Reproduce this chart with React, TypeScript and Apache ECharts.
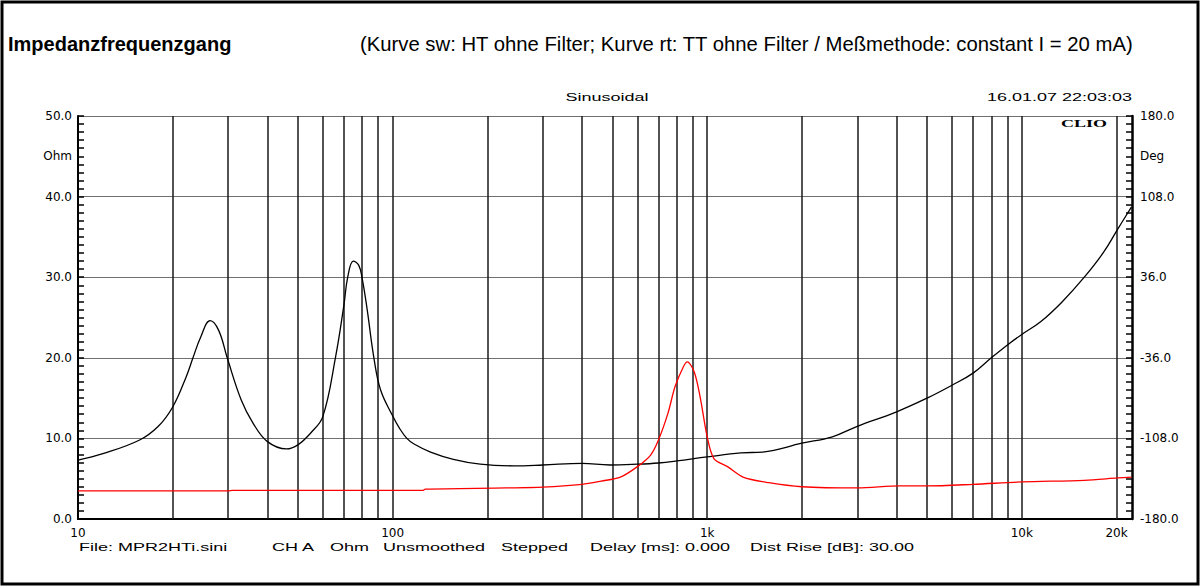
import React, { useEffect, useRef } from "react";
import * as echarts from "echarts";

// HT ohne Filter (black curve) – frequency [Hz] / impedance [Ohm]
const htFreq = [10, 12, 15.7, 18, 20, 22, 23.2, 24.5, 26.3, 28, 29.8, 33, 36, 40, 46, 50, 55, 60, 65.8, 70, 72, 75, 78, 80, 83, 87.2, 91.6, 100, 105, 111, 117, 132, 156, 190, 242, 300, 400, 490, 600, 700, 800, 1000, 1280, 1500, 2000, 2500, 3000, 4000, 5000, 6000, 7000, 8000, 9000, 10000, 11500, 13400, 15800, 18200, 20200, 22300];
const htOhm = [7.3, 8.1, 9.8, 11.5, 13.9, 17.5, 20.0, 22.5, 24.6, 23.4, 20.0, 14.8, 11.9, 9.6, 8.7, 9.2, 10.7, 12.7, 20.0, 26.5, 30.0, 32.0, 31.5, 29.9, 26.0, 20.0, 16.0, 12.8, 11.3, 10.0, 9.3, 8.3, 7.4, 6.8, 6.6, 6.7, 6.9, 6.7, 6.8, 6.95, 7.2, 7.7, 8.2, 8.3, 9.4, 10.2, 11.5, 13.3, 15.0, 16.6, 18.1, 20.0, 21.6, 22.9, 24.5, 26.9, 30.0, 33.1, 36.0, 38.7];

// TT ohne Filter (red curve)
const ttFreq = [10, 30, 31, 125, 127, 230, 300, 400, 460, 530, 600, 660, 700, 750, 790, 840, 865, 910, 950, 1000, 1050, 1160, 1300, 1570, 2000, 3000, 4100, 5000, 7000, 10000, 15800, 20200, 22300];
const ttOhm = [3.5, 3.5, 3.55, 3.55, 3.7, 3.85, 3.95, 4.3, 4.7, 5.2, 6.5, 7.9, 9.8, 13.1, 16.4, 18.9, 19.5, 18.2, 15.1, 10.2, 7.5, 6.5, 5.2, 4.5, 4.0, 3.85, 4.1, 4.1, 4.3, 4.6, 4.8, 5.1, 5.2];

// vertical grid frequencies
const gridFreqs = [20, 30, 40, 50, 60, 70, 80, 90, 100, 200, 300, 400, 500, 600, 700, 800, 900, 1000, 2000, 3000, 4000, 5000, 6000, 7000, 8000, 9000, 10000];

// tick labels
const xDecadeValues = [10, 100, 1000, 10000];
const xDecadeLabels = ["10", "100", "1k", "10k"];
const extraXValues = [3500, 20000];
const extraXLabels = ["Hz", "20k"];
const ohmLabels = ["0.0", "10.0", "20.0", "30.0", "40.0", "50.0"];
const degLabels = ["-180.0", "-108.0", "-36.0", "36.0", "108.0", "180.0"];

const footerItems = [
  { text: "File: MPR2HTi.sini", x: 79 },
  { text: "CH A", x: 272 },
  { text: "Ohm", x: 330 },
  { text: "Unsmoothed", x: 383 },
  { text: "Stepped", x: 501 },
  { text: "Delay [ms]: 0.000", x: 590 },
  { text: "Dist Rise [dB]: 30.00", x: 750 },
];

const X_MIN = 10;
const X_MAX = 22400;

export default function App() {
  const ref = useRef<HTMLDivElement>(null);

  useEffect(() => {
    if (!ref.current) return;
    const chart = echarts.init(ref.current, null, { renderer: "svg" });

    const tickText = { fontFamily: "DejaVu Sans", fontSize: 12, color: "#000" };

    const stretched = (text: string, x: number, y: number, align: string, extra: any = {}) => ({
      type: "text",
      x,
      y,
      scaleX: 1.8,
      silent: true,
      style: {
        text,
        fill: "#000",
        fontFamily: extra.fontFamily || "Liberation Sans",
        fontWeight: extra.fontWeight || "normal",
        fontSize: 10,
        align,
        textAlign: align,
        verticalAlign: "middle",
        textVerticalAlign: "middle",
      },
    });

    const plainText = (text: string, x: number, y: number, align: string, font: any) => ({
      type: "text",
      x,
      y,
      silent: true,
      style: {
        text,
        fill: "#000",
        ...font,
        align,
        textAlign: align,
        verticalAlign: "middle",
        textVerticalAlign: "middle",
      },
    });

    const markData: any[] = gridFreqs.map((f) => ({ xAxis: f }));
    extraXValues.forEach((f, i) => {
      markData.push({
        xAxis: f,
        lineStyle: f === 20000 ? { color: "#1a1a1a", width: 1.5, type: "solid" } : { opacity: 0 },
        label: {
          show: true,
          position: "start",
          distance: 8,
          formatter: extraXLabels[i],
          ...tickText,
        },
      });
    });

    const ticks = {
      axisTick: { show: true, inside: true, length: 6, lineStyle: { color: "#000", width: 1.5 } },
      minorTick: { show: true, splitNumber: 10, length: 6, lineStyle: { color: "#000", width: 1.5 } },
    };

    const option: any = {
      animation: false,
      backgroundColor: "#fff",
      grid: { left: 78, right: 70, top: 116, bottom: 68, containLabel: false },
      xAxis: [
        {
          type: "log",
          logBase: 10,
          min: X_MIN,
          max: X_MAX,
          position: "bottom",
          axisLine: { show: true, lineStyle: { color: "#000", width: 2 } },
          axisTick: { show: false },
          splitLine: { show: false },
          axisLabel: {
            ...tickText,
            margin: 8,
            showMaxLabel: false,
            formatter: (v: number) => {
              const idx = xDecadeValues.findIndex((d) => Math.abs(d - v) / d < 1e-6);
              return idx >= 0 ? xDecadeLabels[idx] : "";
            },
          },
        },
        {
          type: "log",
          logBase: 10,
          min: X_MIN,
          max: X_MAX,
          position: "top",
          axisLine: { show: true, lineStyle: { color: "#000", width: 1.5 } },
          axisTick: { show: false },
          axisLabel: { show: false },
          splitLine: { show: false },
        },
      ],
      yAxis: [
        {
          type: "value",
          min: 0,
          max: 50,
          interval: 10,
          position: "left",
          axisLine: { show: true, lineStyle: { color: "#000", width: 2 } },
          ...ticks,
          splitLine: { show: true, lineStyle: { color: "#707070", width: 1 } },
          axisLabel: {
            ...tickText,
            margin: 6,
            formatter: (v: number) => ohmLabels[Math.round(v / 10)] ?? "",
          },
        },
        {
          type: "value",
          min: 0,
          max: 360,
          interval: 72,
          position: "right",
          axisLine: { show: true, lineStyle: { color: "#000", width: 2.5 } },
          ...ticks,
          splitLine: { show: false },
          axisLabel: {
            ...tickText,
            margin: 8,
            formatter: (v: number) => degLabels[Math.round(v / 72)] ?? "",
          },
        },
      ],
      series: [
        {
          name: "HT ohne Filter",
          type: "line",
          xAxisIndex: 0,
          yAxisIndex: 0,
          data: htFreq.map((f, i) => [f, htOhm[i]]),
          showSymbol: false,
          symbol: "none",
          smooth: 0.4,
          z: 3,
          lineStyle: { color: "#000", width: 1.3 },
          markLine: {
            silent: true,
            animation: false,
            z: 1,
            symbol: ["none", "none"],
            label: { show: false },
            lineStyle: { color: "#1a1a1a", width: 1.5, type: "solid" },
            emphasis: { disabled: true },
            data: markData,
          },
        },
        {
          name: "TT ohne Filter",
          type: "line",
          xAxisIndex: 0,
          yAxisIndex: 0,
          data: ttFreq.map((f, i) => [f, ttOhm[i]]),
          showSymbol: false,
          symbol: "none",
          smooth: 0.3,
          z: 4,
          lineStyle: { color: "#ff0000", width: 1.3 },
        },
      ],
      graphic: {
        elements: [
          {
            type: "rect",
            silent: true,
            shape: { x: 2, y: 2, width: 1196, height: 582 },
            style: { fill: "none", stroke: "#000", lineWidth: 3 },
          },
          plainText("Impedanzfrequenzgang", 8, 44, "left", {
            fontFamily: "Liberation Sans",
            fontSize: 20,
            fontWeight: "bold",
          }),
          plainText(
            "(Kurve sw: HT ohne Filter; Kurve rt: TT ohne Filter / Meßmethode: constant I = 20 mA)",
            360,
            44,
            "left",
            { fontFamily: "Liberation Sans", fontSize: 20.3 }
          ),
          stretched("Sinusoidal", 607, 98, "center"),
          stretched("16.01.07 22:03:03", 1132, 98, "right"),
          stretched("CLIO", 1107, 124, "right", { fontFamily: "Liberation Serif", fontWeight: "bold" }),
          plainText("Ohm", 72, 156, "right", { fontFamily: "DejaVu Sans", fontSize: 12 }),
          plainText("Deg", 1140, 156, "left", { fontFamily: "DejaVu Sans", fontSize: 12 }),
          ...footerItems.map((it) => stretched(it.text, it.x, 548, "left")),
        ],
      },
    };

    chart.setOption(option);
    return () => chart.dispose();
  }, []);

  return (
    <div
      ref={ref}
      style={{ position: "fixed", left: 0, top: 0, width: 1202, height: 587, background: "#fff" }}
    />
  );
}
